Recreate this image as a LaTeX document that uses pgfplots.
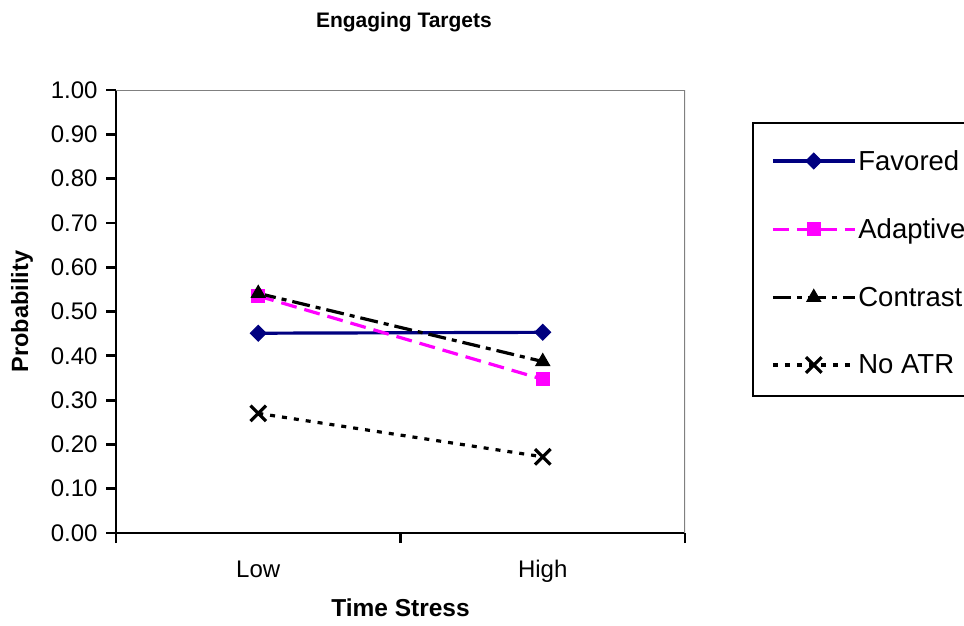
\documentclass[border=0pt]{standalone}
\usepackage{fontspec}
\setmainfont{Liberation Sans}
\usepackage{pgfplots}
\pgfplotsset{compat=1.18}
\definecolor{navy}{RGB}{0,0,128}
\definecolor{mag}{RGB}{255,0,255}
\definecolor{boxgray}{RGB}{128,128,128}
\begin{document}
\begin{tikzpicture}
\useasboundingbox (0,0) rectangle (964pt,625pt);
\begin{axis}[
  at={(116pt,92pt)}, anchor=south west,
  width=569pt, height=443pt, scale only axis,
  xmin=0, xmax=2, ymin=0, ymax=1,
  axis x line*=bottom, axis y line*=left,
  axis line style={black, line width=2.8pt, -},
  xtick={0,1,2}, xticklabels={},
  extra x ticks={0.5,1.5}, extra x tick labels={Low,High},
  extra x tick style={major tick length=0pt, xticklabel style={yshift=-24pt}},
  ytick={0,0.1,0.2,0.3,0.4,0.5,0.6,0.7,0.8,0.9,1.0},
  tick align=outside, major tick length=10pt,
  tick style={black, line width=2.8pt},
  yticklabel style={xshift=-5pt, /pgf/number format/.cd, fixed, fixed zerofill, precision=2},
  /pgf/number format/assume math mode=true,
  ticklabel style={font=\fontsize{24}{28}\selectfont},
  title={Engaging Targets},
  title style={at={(0.506,1.140)}, anchor=center, font=\bfseries\fontsize{21}{25}\selectfont},
  xlabel={Time Stress},
  xlabel style={at={(0.5,-0.1693)}, anchor=center, font=\bfseries\fontsize{24.5}{28}\selectfont},
  ylabel={Probability},
  ylabel style={at={(-0.1652,0.5)}, anchor=center, font=\bfseries\fontsize{23.5}{28}\selectfont},
  legend style={at={(1.1511,0.869)}, anchor=north west, draw=none, fill=none,
    font=\fontsize{27.5}{32}\selectfont, row sep=43pt, column sep=0pt, inner sep=0pt},
  legend cell align=left,
  legend image code/.code={\draw[#1, mark repeat=2, mark phase=2] plot coordinates {(0pt,0pt) (41pt,0pt) (82pt,0pt)};},
]
\addplot[navy, line width=3.2pt, mark=square*, mark size=5.6pt, mark options={solid, fill=navy, rotate=45, line width=1pt}]
  coordinates {(0.5,0.451) (1.5,0.453)};
\addlegendentry{Favored}
\addplot[mag, line width=3.2pt, dash pattern=on 16pt off 8pt, mark=square*, mark size=6.4pt, mark options={solid, fill=mag, line width=1pt}]
  coordinates {(0.5,0.535) (1.5,0.347)};
\addlegendentry{Adaptive}
\addplot[black, line width=3.2pt, dash pattern=on 18pt off 6pt on 5pt off 6pt, mark=triangle*, mark size=8pt, mark options={solid, fill=black, line width=1pt}]
  coordinates {(0.5,0.541) (1.5,0.387)};
\addlegendentry{Contrast}
\addplot[black, line width=3.2pt, dash pattern=on 5pt off 7pt, mark=x, mark size=11pt, mark options={solid, line width=3.2pt}]
  coordinates {(0.5,0.270) (1.5,0.172)};
\addlegendentry{No ATR}
\draw[boxgray, line width=2.8pt] (rel axis cs:0,1) -- (rel axis cs:1,1) -- (rel axis cs:1,0);
\end{axis}
\draw[black, line width=2.8pt] (753pt,229pt) rectangle (980pt,502pt);
\end{tikzpicture}
\end{document}
